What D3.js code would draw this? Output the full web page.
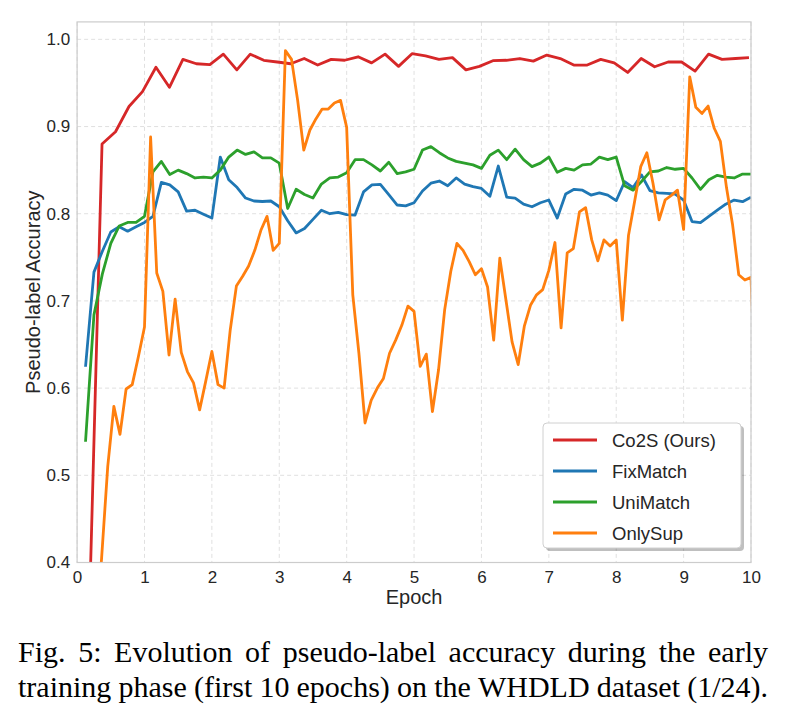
<!DOCTYPE html>
<html>
<head>
<meta charset="utf-8">
<script src="https://cdn.jsdelivr.net/npm/d3@7"></script>
<style>
  body { margin: 0; background: #fff; }
  .tick text { font-family: "Liberation Sans", Arial, sans-serif; fill: #262626; }
  .axisTitle { font-family: "Liberation Sans", Arial, sans-serif; fill: #262626; }
  .legendText { font-family: "Liberation Sans", Arial, sans-serif; fill: #262626; }
  .caption { font-family: "Liberation Serif", "Times New Roman", serif; fill: #000; }
</style>
</head>
<body>
<svg id="chart" width="785" height="716"></svg>
<script>
// series names / colours (matplotlib tab10)
var seriesNames = ["Co2S (Ours)", "FixMatch", "UniMatch", "OnlySup"]
var seriesColors = ["#d62728", "#1f77b4", "#2ca02c", "#ff7f0e"]

// Co2S is logged about every 0.2 epoch
var co2sEpochs = d3.range(1, 51).map(function (j) { return +(0.2 * j - 0.03).toFixed(2) })
var co2sAcc = [0.31, 0.880, 0.894, 0.923, 0.940, 0.968, 0.945, 0.977, 0.972, 0.971,
  0.983, 0.965, 0.983, 0.976, 0.974, 0.972, 0.978, 0.9705, 0.977, 0.976,
  0.980, 0.973, 0.983, 0.969, 0.9835, 0.981, 0.977, 0.979, 0.965, 0.969,
  0.9755, 0.976, 0.978, 0.975, 0.982, 0.978, 0.9705, 0.9705, 0.977, 0.973,
  0.962, 0.978, 0.9685, 0.974, 0.974, 0.9636, 0.983, 0.977, 0.978, 0.979]

// FixMatch / UniMatch every 1/8 epoch
var matchEpochs = d3.range(1, 81).map(function (j) { return j * 0.125 })
var fixMatchAcc = [0.6245, 0.733, 0.757, 0.779, 0.785, 0.780, 0.785, 0.790,
  0.797, 0.836, 0.833, 0.825, 0.803, 0.804, 0.7995, 0.795,
  0.865, 0.839, 0.830, 0.818, 0.8146, 0.814, 0.8146, 0.808,
  0.792, 0.778, 0.783, 0.7935, 0.804, 0.800, 0.8016, 0.799,
  0.7985, 0.825, 0.833, 0.8337, 0.822, 0.810, 0.809, 0.8126,
  0.826, 0.835, 0.8375, 0.832, 0.841, 0.834, 0.831, 0.829,
  0.820, 0.8547, 0.819, 0.818, 0.811, 0.808, 0.8126, 0.8157,
  0.795, 0.8226, 0.828, 0.827, 0.8214, 0.824, 0.8214, 0.815,
  0.8367, 0.830, 0.8444, 0.8264, 0.824, 0.8234, 0.8226, 0.8157,
  0.791, 0.7897, 0.797, 0.804, 0.811, 0.8157, 0.8138, 0.819]
var uniMatchAcc = [0.5385, 0.684, 0.731, 0.766, 0.786, 0.790, 0.790, 0.797,
  0.848, 0.860, 0.845, 0.850, 0.846, 0.841, 0.842, 0.841,
  0.850, 0.865, 0.873, 0.868, 0.871, 0.864, 0.864, 0.858,
  0.806, 0.828, 0.822, 0.818, 0.834, 0.841, 0.842, 0.847,
  0.862, 0.862, 0.856, 0.849, 0.859, 0.846, 0.848, 0.851,
  0.873, 0.877, 0.870, 0.864, 0.860, 0.858, 0.856, 0.852,
  0.867, 0.873, 0.862, 0.874, 0.862, 0.854, 0.858, 0.865,
  0.8475, 0.852, 0.850, 0.856, 0.857, 0.865, 0.862, 0.865,
  0.832, 0.827, 0.837, 0.848, 0.849, 0.853, 0.851, 0.852,
  0.841, 0.828, 0.839, 0.844, 0.842, 0.841, 0.8455, 0.8455]

// OnlySup every 1/11 epoch
var onlySupEpochs = d3.range(1, 112).map(function (k) { return k / 11 })
var onlySupAcc = [0.22, 0.26, 0.31, 0.405, 0.51, 0.579, 0.547, 0.599, 0.604, 0.636, 0.670,
  0.888, 0.732, 0.711, 0.638, 0.702, 0.641, 0.619, 0.606, 0.575, 0.608, 0.642,
  0.604, 0.600, 0.667, 0.717, 0.728, 0.740, 0.758, 0.781, 0.797, 0.758, 0.766,
  0.987, 0.977, 0.930, 0.873, 0.896, 0.909, 0.920, 0.920, 0.927, 0.930, 0.899,
  0.707, 0.640, 0.560, 0.586, 0.600, 0.611, 0.640, 0.655, 0.672, 0.694, 0.688,
  0.625, 0.639, 0.573, 0.621, 0.690, 0.734, 0.766, 0.758, 0.745, 0.730, 0.737,
  0.716, 0.655, 0.749, 0.701, 0.653, 0.627, 0.671, 0.695, 0.707, 0.713, 0.735,
  0.767, 0.669, 0.755, 0.760, 0.802, 0.807, 0.770, 0.746, 0.770, 0.763, 0.770,
  0.678, 0.775, 0.814, 0.854, 0.870, 0.835, 0.793, 0.816, 0.821, 0.827, 0.782,
  0.957, 0.922, 0.915, 0.9235, 0.898, 0.883, 0.830, 0.787, 0.730, 0.724, 0.727,
  0.55]

var xTicks = [0, 1, 2, 3, 4, 5, 6, 7, 8, 9, 10]
var yTicks = [0.4, 0.5, 0.6, 0.7, 0.8, 0.9, 1.0]
var captionLines = [
  "Fig. 5: Evolution of pseudo-label accuracy during the early",
  "training phase (first 10 epochs) on the WHDLD dataset (1/24)."
]

var series = [
  { epochs: co2sEpochs, acc: co2sAcc },
  { epochs: matchEpochs, acc: fixMatchAcc },
  { epochs: matchEpochs, acc: uniMatchAcc },
  { epochs: onlySupEpochs, acc: onlySupAcc }
]

var svg = d3.select("#chart")
var plotL = 77.1, plotR = 751, plotT = 21.9, plotB = 562.5

var x = d3.scaleLinear().domain([0, 10]).range([plotL, plotR])
var y = d3.scaleLinear().domain([0.4, 1.02]).range([plotB, plotT])

svg.append("defs").append("clipPath").attr("id", "plotClip")
  .append("rect")
  .attr("x", plotL).attr("y", plotT)
  .attr("width", plotR - plotL).attr("height", plotB - plotT)

// grid (dashed, light)
var grid = svg.append("g")
grid.selectAll(".vgrid").data(xTicks).enter().append("line")
  .attr("x1", function (d) { return x(d) }).attr("x2", function (d) { return x(d) })
  .attr("y1", plotT).attr("y2", plotB)
  .attr("stroke", "#dcdcdc").attr("stroke-width", 0.9).attr("stroke-dasharray", "4,3")
grid.selectAll(".hgrid").data(yTicks).enter().append("line")
  .attr("x1", plotL).attr("x2", plotR)
  .attr("y1", function (d) { return y(d) }).attr("y2", function (d) { return y(d) })
  .attr("stroke", "#dcdcdc").attr("stroke-width", 0.9).attr("stroke-dasharray", "4,3")

// axes, ticks hidden like seaborn whitegrid
var xAxis = svg.append("g")
  .attr("transform", "translate(0," + plotB + ")")
  .call(d3.axisBottom(x).tickValues(xTicks).tickSize(0).tickPadding(8).tickFormat(d3.format("d")))
xAxis.select(".domain").remove()
xAxis.selectAll("text").style("font-size", "17px")

var yAxis = svg.append("g")
  .attr("transform", "translate(" + plotL + ",0)")
  .call(d3.axisLeft(y).tickValues(yTicks).tickSize(0).tickPadding(7).tickFormat(d3.format(".1f")))
yAxis.select(".domain").remove()
yAxis.selectAll("text").style("font-size", "17px")

// lines
var line = d3.line()
  .x(function (d) { return x(d[0]) })
  .y(function (d) { return y(d[1]) })

var plot = svg.append("g").attr("clip-path", "url(#plotClip)")
series.forEach(function (s, i) {
  plot.append("path")
    .datum(d3.zip(s.epochs, s.acc))
    .attr("fill", "none")
    .attr("stroke", seriesColors[i])
    .attr("stroke-width", 2.8)
    .attr("stroke-linejoin", "round")
    .attr("d", line)
})

// frame
svg.append("rect")
  .attr("x", plotL).attr("y", plotT)
  .attr("width", plotR - plotL).attr("height", plotB - plotT)
  .attr("fill", "none").attr("stroke", "#cccccc").attr("stroke-width", 1.2)

// axis titles
svg.append("text").attr("class", "axisTitle")
  .attr("x", (plotL + plotR) / 2).attr("y", 604)
  .attr("text-anchor", "middle").style("font-size", "20px")
  .text("Epoch")
svg.append("text").attr("class", "axisTitle")
  .attr("transform", "translate(40," + ((plotT + plotB) / 2) + ") rotate(-90)")
  .attr("text-anchor", "middle").style("font-size", "20px")
  .text("Pseudo-label Accuracy")

// legend
var lg = svg.append("g").attr("transform", "translate(543,423)")
lg.append("rect").attr("x", 3).attr("y", 3).attr("width", 198).attr("height", 125)
  .attr("rx", 4).attr("fill", "#000").attr("opacity", 0.25)
lg.append("rect").attr("width", 198).attr("height", 125).attr("rx", 4)
  .attr("fill", "#fff").attr("stroke", "#d0d0d0").attr("stroke-width", 1)
seriesNames.forEach(function (name, i) {
  var cy = 17 + i * 31
  lg.append("line").attr("x1", 10).attr("x2", 54).attr("y1", cy).attr("y2", cy)
    .attr("stroke", seriesColors[i]).attr("stroke-width", 2.8)
  lg.append("text").attr("class", "legendText")
    .attr("x", 69).attr("y", cy + 6.5).style("font-size", "18.5px")
    .text(name)
})

// caption, justified across the column
var capLeft = 18, capRight = 768
captionLines.forEach(function (txt, li) {
  var words = txt.split(/\s+/)
  var baseY = 662 + li * 35
  var nodes = words.map(function (w) {
    return svg.append("text").attr("class", "caption")
      .attr("y", baseY).style("font-size", "30px").text(w)
  })
  var widths = nodes.map(function (n) { return n.node().getComputedTextLength() })
  var gap = (capRight - capLeft - d3.sum(widths)) / (words.length - 1)
  var cx = capLeft
  nodes.forEach(function (n, i) {
    n.attr("x", cx)
    cx += widths[i] + gap
  })
})
</script>
</body>
</html>
